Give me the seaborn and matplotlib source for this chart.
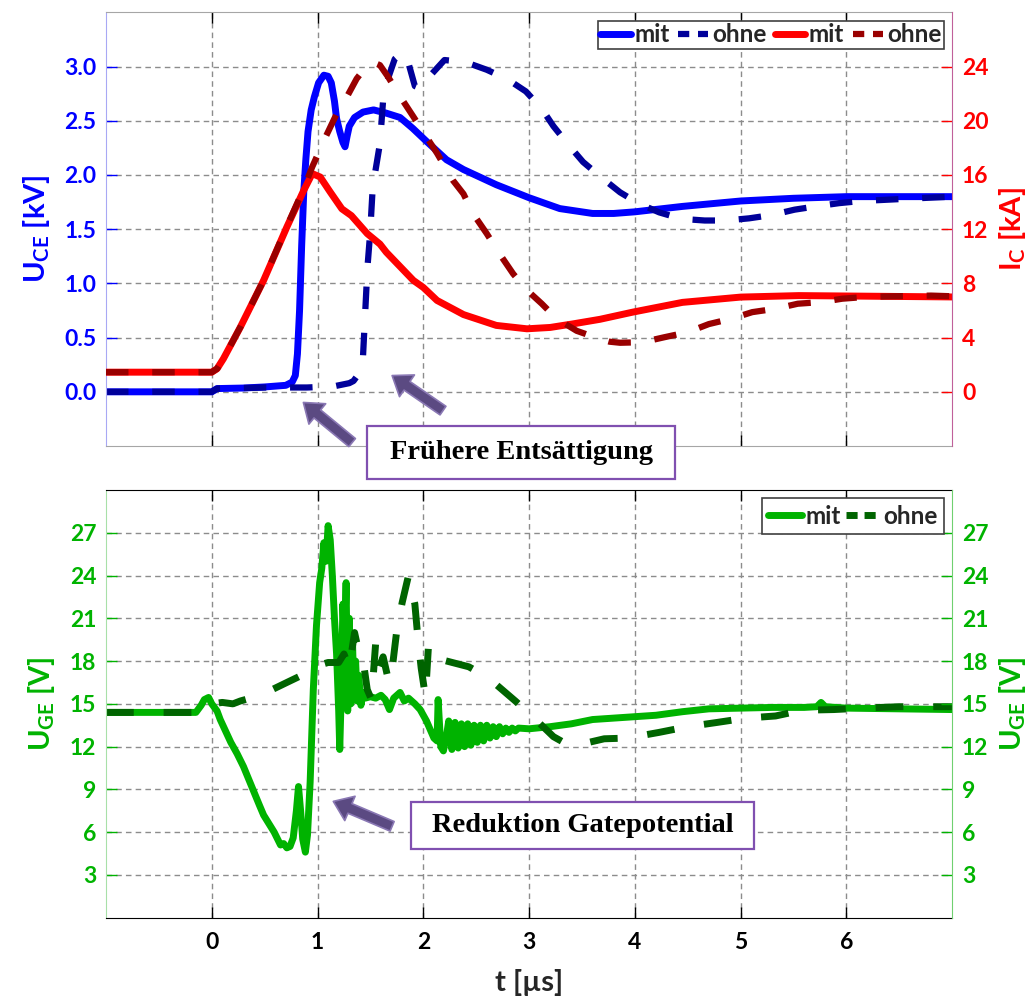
import numpy as np
import pandas as pd
import matplotlib
matplotlib.use("Agg")
import matplotlib.pyplot as plt
from matplotlib.patches import Rectangle
from matplotlib.lines import Line2D
import seaborn as sns

# ---------------- data ----------------
# U_CE "mit" [kV]
uce_mit_t = [-1.0, 0.0, 0.05, 0.3, 0.5, 0.7, 0.76, 0.79, 0.81, 0.83, 0.85, 0.87, 0.89, 0.91, 0.94,
             0.97, 1.01, 1.06, 1.10, 1.13, 1.16, 1.18, 1.21, 1.24, 1.26, 1.28, 1.30, 1.35, 1.43,
             1.53, 1.65, 1.78, 1.90, 2.03, 2.22, 2.38, 2.69, 3.0, 3.29, 3.6, 3.8, 4.0, 4.45,
             5.0, 5.5, 6.0, 7.0]
uce_mit_v = [0.0, 0.0, 0.03, 0.035, 0.045, 0.06, 0.09, 0.15, 0.35, 0.75, 1.35, 1.85, 2.15, 2.4, 2.6,
             2.72, 2.85, 2.92, 2.91, 2.85, 2.68, 2.52, 2.40, 2.30, 2.26, 2.36, 2.45, 2.53, 2.58,
             2.60, 2.57, 2.53, 2.43, 2.31, 2.14, 2.05, 1.91, 1.79, 1.69, 1.645, 1.645, 1.66, 1.71,
             1.76, 1.785, 1.80, 1.80]
# U_CE "ohne" [kV]
uce_ohne_t = [-1.0, 0.0, 0.05, 0.5, 0.9, 1.15, 1.30, 1.34, 1.40, 1.428, 1.45, 1.472, 1.497, 1.522,
              1.59, 1.62, 1.67, 1.73, 1.80, 1.86, 1.92, 1.97, 2.05, 2.2, 2.4, 2.6, 2.8, 2.97,
              3.12, 3.23, 3.37, 3.51, 3.68, 3.86, 4.03, 4.23, 4.44, 4.66, 4.86, 5.08, 5.29,
              5.51, 5.71, 5.93, 6.14, 6.35, 6.56, 7.0]
uce_ohne_v = [0.0, 0.0, 0.03, 0.04, 0.04, 0.05, 0.08, 0.10, 0.18, 0.29, 0.72, 1.15, 1.46, 1.89,
              2.29, 2.69, 2.90, 3.07, 3.13, 3.03, 2.82, 2.80, 2.90, 3.06, 3.04, 2.97, 2.88, 2.77,
              2.61, 2.45, 2.28, 2.12, 1.98, 1.84, 1.74, 1.655, 1.595, 1.58, 1.58, 1.60, 1.63,
              1.68, 1.71, 1.74, 1.76, 1.77, 1.78, 1.80]
# I_C "mit" [kA]
ic_mit_t = [-1.0, 0.0, 0.05, 0.11, 0.27, 0.49, 0.71, 0.87, 0.95, 1.025, 1.12, 1.23, 1.32, 1.47,
            1.59, 1.65, 1.906, 2.0, 2.13, 2.38, 2.69, 2.98, 3.2, 3.42, 3.67, 3.98, 4.45, 5.0,
            5.55, 6.0, 7.0]
ic_mit_v = [1.45, 1.45, 1.7, 2.44, 4.77, 8.22, 12.16, 14.87, 16.1, 15.85, 14.74, 13.5, 13.0, 11.67,
            10.9, 10.3, 8.22, 7.7, 6.74, 5.7, 4.9, 4.65, 4.75, 5.02, 5.35, 5.88, 6.6, 6.99,
            7.1, 7.07, 7.0]
# I_C "ohne" [kA]
ic_ohne_t = [-1.0, 0.0, 0.05, 0.11, 0.27, 0.49, 0.71, 0.87, 0.95, 1.07, 1.18, 1.28, 1.37, 1.46,
             1.53, 1.59, 1.67, 1.78, 1.906, 2.03, 2.13, 2.28, 2.38, 2.47, 2.6, 2.72, 2.85, 2.98,
             3.12, 3.26, 3.45, 3.65, 3.76, 3.86, 4.07, 4.28, 4.5, 4.7, 4.91, 5.11, 5.33, 5.54,
             5.76, 5.96, 6.18, 6.39, 6.8, 7.0]
ic_ohne_v = [1.45, 1.45, 1.7, 2.44, 4.77, 8.22, 12.2, 15.0, 16.6, 18.7, 20.5, 21.8, 23.1, 24.0,
             24.3, 24.1, 23.2, 21.8, 20.3, 18.8, 17.6, 15.6, 14.6, 13.15, 11.67, 10.19, 8.7, 7.5,
             6.5, 5.4, 4.5, 3.95, 3.7, 3.62, 3.66, 4.03, 4.4, 5.0, 5.39, 5.88, 6.13, 6.5,
             6.62, 6.87, 7.0, 7.04, 7.1, 7.05]
# U_GE "mit" [V]
uge_mit_t = [-1.0, -0.15, -0.10, -0.07, -0.03, 0.0, 0.02, 0.05, 0.08, 0.13, 0.18, 0.24, 0.30, 0.35,
             0.40, 0.45, 0.49, 0.54, 0.59, 0.65, 0.68, 0.71, 0.74, 0.77, 0.80, 0.82, 0.84, 0.86,
             0.885, 0.905, 0.93, 0.96, 0.99, 1.02, 1.04, 1.06, 1.08, 1.10, 1.12, 1.14, 1.16,
             1.18, 1.20, 1.21, 1.225, 1.24, 1.255, 1.27, 1.285, 1.30, 1.315, 1.33, 1.345, 1.36,
             1.375, 1.39, 1.41, 1.43, 1.45, 1.50, 1.55, 1.60, 1.64, 1.68, 1.72, 1.78, 1.82,
             1.86, 1.92, 1.97, 2.03, 2.10, 2.13, 2.14, 2.165, 2.19, 2.22, 2.24, 2.27, 2.30,
             2.33, 2.36, 2.39, 2.42, 2.45, 2.48, 2.51, 2.54, 2.57, 2.60, 2.63, 2.66, 2.69,
             2.72, 2.75, 2.78, 2.81, 2.84, 2.87, 2.90, 3.0, 3.2, 3.4, 3.6, 3.8, 4.0, 4.2, 4.45,
             4.7, 5.0, 5.3, 5.6, 5.72, 5.76, 5.80, 6.0, 6.5, 7.0]
uge_mit_v = [14.4, 14.4, 14.9, 15.3, 15.45, 15.0, 14.8, 14.5, 13.9, 13.1, 12.3, 11.5, 10.6, 9.7,
             8.8, 7.9, 7.2, 6.6, 6.0, 5.1, 5.2, 4.9, 5.0, 5.6, 7.5, 9.2, 7.5, 5.5,
             4.6, 5.8, 9.5, 16.0, 20.5, 23.5, 24.5, 26.3, 25.0, 27.5, 26.5, 24.0, 21.0,
             18.5, 14.5, 11.8, 16.0, 22.0, 19.0, 23.5, 14.5, 21.0, 15.0, 19.5, 15.3, 18.0,
             15.2, 17.0, 14.9, 15.8, 15.4, 15.5, 15.4, 15.6, 15.3, 14.6, 15.4, 15.8, 15.2,
             15.4, 15.0, 14.6, 13.8, 12.6, 12.4, 15.3, 12.0, 11.7, 12.8, 13.8, 11.8, 13.7,
             11.9, 13.6, 12.0, 13.6, 12.1, 13.5, 12.3, 13.5, 12.4, 13.5, 12.6, 13.4, 12.7,
             13.4, 12.9, 13.3, 13.0, 13.3, 13.1, 13.3, 13.25, 13.4, 13.6, 13.9, 14.0, 14.1, 14.2, 14.45,
             14.65, 14.7, 14.75, 14.75, 14.8, 15.1, 14.8, 14.7, 14.65, 14.6]
# U_GE "ohne" [V]
uge_ohne_t = [-1.0, -0.15, -0.1, 0.0, 0.1, 0.2, 0.27, 0.46, 0.71, 0.85, 0.96, 1.1, 1.2, 1.25,
              1.30, 1.35, 1.40, 1.43, 1.47, 1.51, 1.55, 1.58, 1.62, 1.66, 1.69, 1.75, 1.80,
              1.86, 1.92, 1.95, 1.98, 2.02, 2.05, 2.17, 2.43, 2.55, 2.65, 2.87, 3.02, 3.23,
              3.35, 3.45, 3.71, 3.93, 4.23, 4.5, 4.78, 5.05, 5.33, 5.58, 5.88, 6.15, 6.5, 7.0]
uge_ohne_v = [14.4, 14.4, 14.5, 15.0, 15.1, 15.0, 15.2, 15.6, 16.5, 17.0, 17.6, 17.9, 17.9, 18.5,
              17.5, 20.0, 18.3, 18.1, 16.0, 15.3, 19.3, 17.5, 18.3, 17.0, 16.5, 20.2, 22.1,
              24.0, 22.0, 19.5, 17.5, 15.5, 19.2, 18.1, 17.6, 17.1, 16.6, 15.2, 14.2, 12.7,
              12.2, 12.1, 12.55, 12.6, 13.0, 13.4, 13.7, 14.0, 14.15, 14.55, 14.6, 14.7, 14.8, 14.8]

x_ticks = [0, 1, 2, 3, 4, 5, 6]
uce_ticks = [0.0, 0.5, 1.0, 1.5, 2.0, 2.5, 3.0]
ic_ticks = [0, 4, 8, 12, 16, 20, 24]
uge_ticks = [3, 6, 9, 12, 15, 18, 21, 24, 27]

legend_top = ["mit", "ohne", "mit", "ohne"]
legend_bot = ["mit", "ohne"]
note_top = "Frühere Entsättigung"
note_bot = "Reduktion Gatepotential"

# ---------------- style ----------------
sns.set_style("white")
plt.rcParams['font.family'] = ['Lato', 'DejaVu Sans']
plt.rcParams['font.weight'] = 'bold'
plt.rcParams['mathtext.fontset'] = 'custom'
plt.rcParams['mathtext.rm'] = 'Lato:bold'
plt.rcParams['mathtext.it'] = 'Lato:bold'
plt.rcParams['mathtext.bf'] = 'Lato:bold'

BLUE, NAVY = '#0000ff', '#00009a'
RED, DRED = '#ff0000', '#990000'
GREEN, DGREEN = '#00b300', '#006400'
TICKFS = 16.5
LABFS = 21

fig = plt.figure(figsize=(10.35, 10.01), dpi=100)
ax1 = fig.add_axes([0.1024, 0.5544, 0.8176, 0.4333])
ax1r = ax1.twinx()
ax2 = fig.add_axes([0.1024, 0.0832, 0.8176, 0.4273])
ax2r = ax2.twinx()

dash_b = (0, (3.6, 3.8))
dash_g = (0, (4.0, 4.3))

def line(ax, t, v, color, lw, ls='-'):
    df = pd.DataFrame({'t': t, 'v': v})
    sns.lineplot(data=df, x='t', y='v', ax=ax, color=color, linewidth=lw,
                 linestyle=ls, estimator=None, sort=False, solid_capstyle='round',
                 dash_capstyle='butt')

line(ax1, uce_mit_t, uce_mit_v, BLUE, 5.0)
line(ax1, uce_ohne_t, uce_ohne_v, NAVY, 4.5, dash_b)
line(ax1r, ic_mit_t, ic_mit_v, RED, 5.0)
line(ax1r, ic_ohne_t, ic_ohne_v, DRED, 4.5, dash_b)
line(ax2, uge_mit_t, uge_mit_v, GREEN, 5.0)
line(ax2, uge_ohne_t, uge_ohne_v, DGREEN, 5.0, dash_g)

for ax in (ax1, ax2):
    ax.set_xlim(-1, 7)
    ax.set_xticks(x_ticks)
    ax.set_axisbelow(True)
    ax.grid(True, linestyle=(0, (4, 3)), color='#8c8c8c', linewidth=1.0)
    ax.tick_params(axis='x', direction='in', length=8, width=1, top=True, bottom=True,
                   colors='black', labelsize=TICKFS, pad=10)

ax1.set_ylim(-0.5, 3.5)
ax1r.set_ylim(-4, 28)
ax1.set_yticks(uce_ticks)
ax1.set_yticklabels([f"{v:.1f}" for v in uce_ticks])
ax1r.set_yticks(ic_ticks)
ax1.tick_params(axis='x', labelbottom=False)
ax1.tick_params(axis='y', direction='in', length=8, width=1, color=BLUE, labelcolor=BLUE,
                labelsize=TICKFS, pad=7)
ax1r.tick_params(axis='y', direction='in', length=8, width=1, color=RED, labelcolor=RED,
                 labelsize=TICKFS, pad=7)
ax1.set_xlabel('')
ax1.set_ylabel(r'U$_\mathregular{CE}$ [kV]', color=BLUE, fontsize=LABFS, fontweight='bold', labelpad=9)
ax1r.set_ylabel(r'I$_\mathregular{C}$ [kA]', color=RED, fontsize=LABFS, fontweight='bold', labelpad=6)
ax1r.set_xlabel('')

for s in ('top', 'bottom'):
    ax1.spines[s].set_color('#a6a6a6')
ax1.spines['left'].set_color('#a8a8f4')
ax1.spines['right'].set_visible(False)
for s in ('top', 'bottom', 'left'):
    ax1r.spines[s].set_visible(False)
ax1r.spines['right'].set_color('#c0609a')

ax2.set_ylim(0, 30)
ax2r.set_ylim(0, 30)
ax2.set_yticks(uge_ticks)
ax2r.set_yticks(uge_ticks)
ax2.tick_params(axis='y', direction='in', length=8, width=1, color=GREEN, labelcolor=GREEN,
                labelsize=TICKFS, pad=7)
ax2r.tick_params(axis='y', direction='in', length=8, width=1, color=GREEN, labelcolor=GREEN,
                 labelsize=TICKFS, pad=7)
ax2.set_xlabel(r't [µs]', fontsize=LABFS, fontweight='bold', labelpad=12)
ax2.set_ylabel(r'U$_\mathregular{GE}$ [V]', color=GREEN, fontsize=LABFS, fontweight='bold', labelpad=9)
ax2r.set_ylabel(r'U$_\mathregular{GE}$ [V]', color=GREEN, fontsize=LABFS, fontweight='bold', labelpad=6)
for s in ('top', 'bottom'):
    ax2.spines[s].set_color('black')
ax2.spines['left'].set_color('#a8e0a8')
ax2.spines['right'].set_visible(False)
for s in ('top', 'bottom', 'left'):
    ax2r.spines[s].set_visible(False)
ax2r.spines['right'].set_color('#70d070')

# legends
h_top = [Line2D([], [], color=BLUE, lw=5.0), Line2D([], [], color=NAVY, lw=4.5, ls=(0, (1.8, 1.4))),
         Line2D([], [], color=RED, lw=5.0), Line2D([], [], color=DRED, lw=4.5, ls=(0, (1.8, 1.4)))]
leg = ax1r.legend(h_top, legend_top, loc='upper right', ncol=4, fontsize=17.5, frameon=True,
                  fancybox=False, edgecolor='#404040', handlelength=1.25, handletextpad=0.15,
                  columnspacing=0.35, borderpad=0.1, borderaxespad=0.35, framealpha=1)
leg.get_frame().set_linewidth(1.2)
h_bot = [Line2D([], [], color=GREEN, lw=5.0), Line2D([], [], color=DGREEN, lw=5.0, ls=(0, (1.6, 1.0)))]
leg2 = ax2r.legend(h_bot, legend_bot, loc='upper right', ncol=2, fontsize=17.5, frameon=True,
                   fancybox=False, edgecolor='#404040', handlelength=1.4, handletextpad=0.15,
                   columnspacing=0.2, borderpad=0.25, borderaxespad=0.35, framealpha=1)
leg2.get_frame().set_linewidth(1.2)

# arrows
arrow_kw = dict(arrowstyle='simple,head_width=1.9,head_length=1.3,tail_width=0.75',
                fc='#5b4a82', ec='#8a78b4', lw=1.2, mutation_scale=10, shrinkA=0, shrinkB=0)
ax1.annotate('', xy=(0.866, -0.098), xytext=(1.327, -0.468), arrowprops=arrow_kw,
             annotation_clip=False)
ax1.annotate('', xy=(1.705, 0.15), xytext=(2.186, -0.173), arrowprops=arrow_kw,
             annotation_clip=False)
ax2.annotate('', xy=(1.149, 8.16), xytext=(1.705, 6.41), arrowprops=arrow_kw,
             annotation_clip=False)

# note boxes
for (x0, y0, w, h, txt) in [(0.3546, 0.5215, 0.2976, 0.0529, note_top),
                            (0.3971, 0.1518, 0.3314, 0.0470, note_bot)]:
    fig.add_artist(Rectangle((x0, y0), w, h, transform=fig.transFigure, facecolor='white',
                             edgecolor='#8050b0', lw=1.6, zorder=5))
    fig.text(x0 + w / 2, y0 + h / 2, txt, ha='center', va='center', fontsize=20.5,
             fontweight='bold', family=['Liberation Serif', 'DejaVu Serif'], color='black', zorder=6)

fig.savefig('out.png', dpi=100)
